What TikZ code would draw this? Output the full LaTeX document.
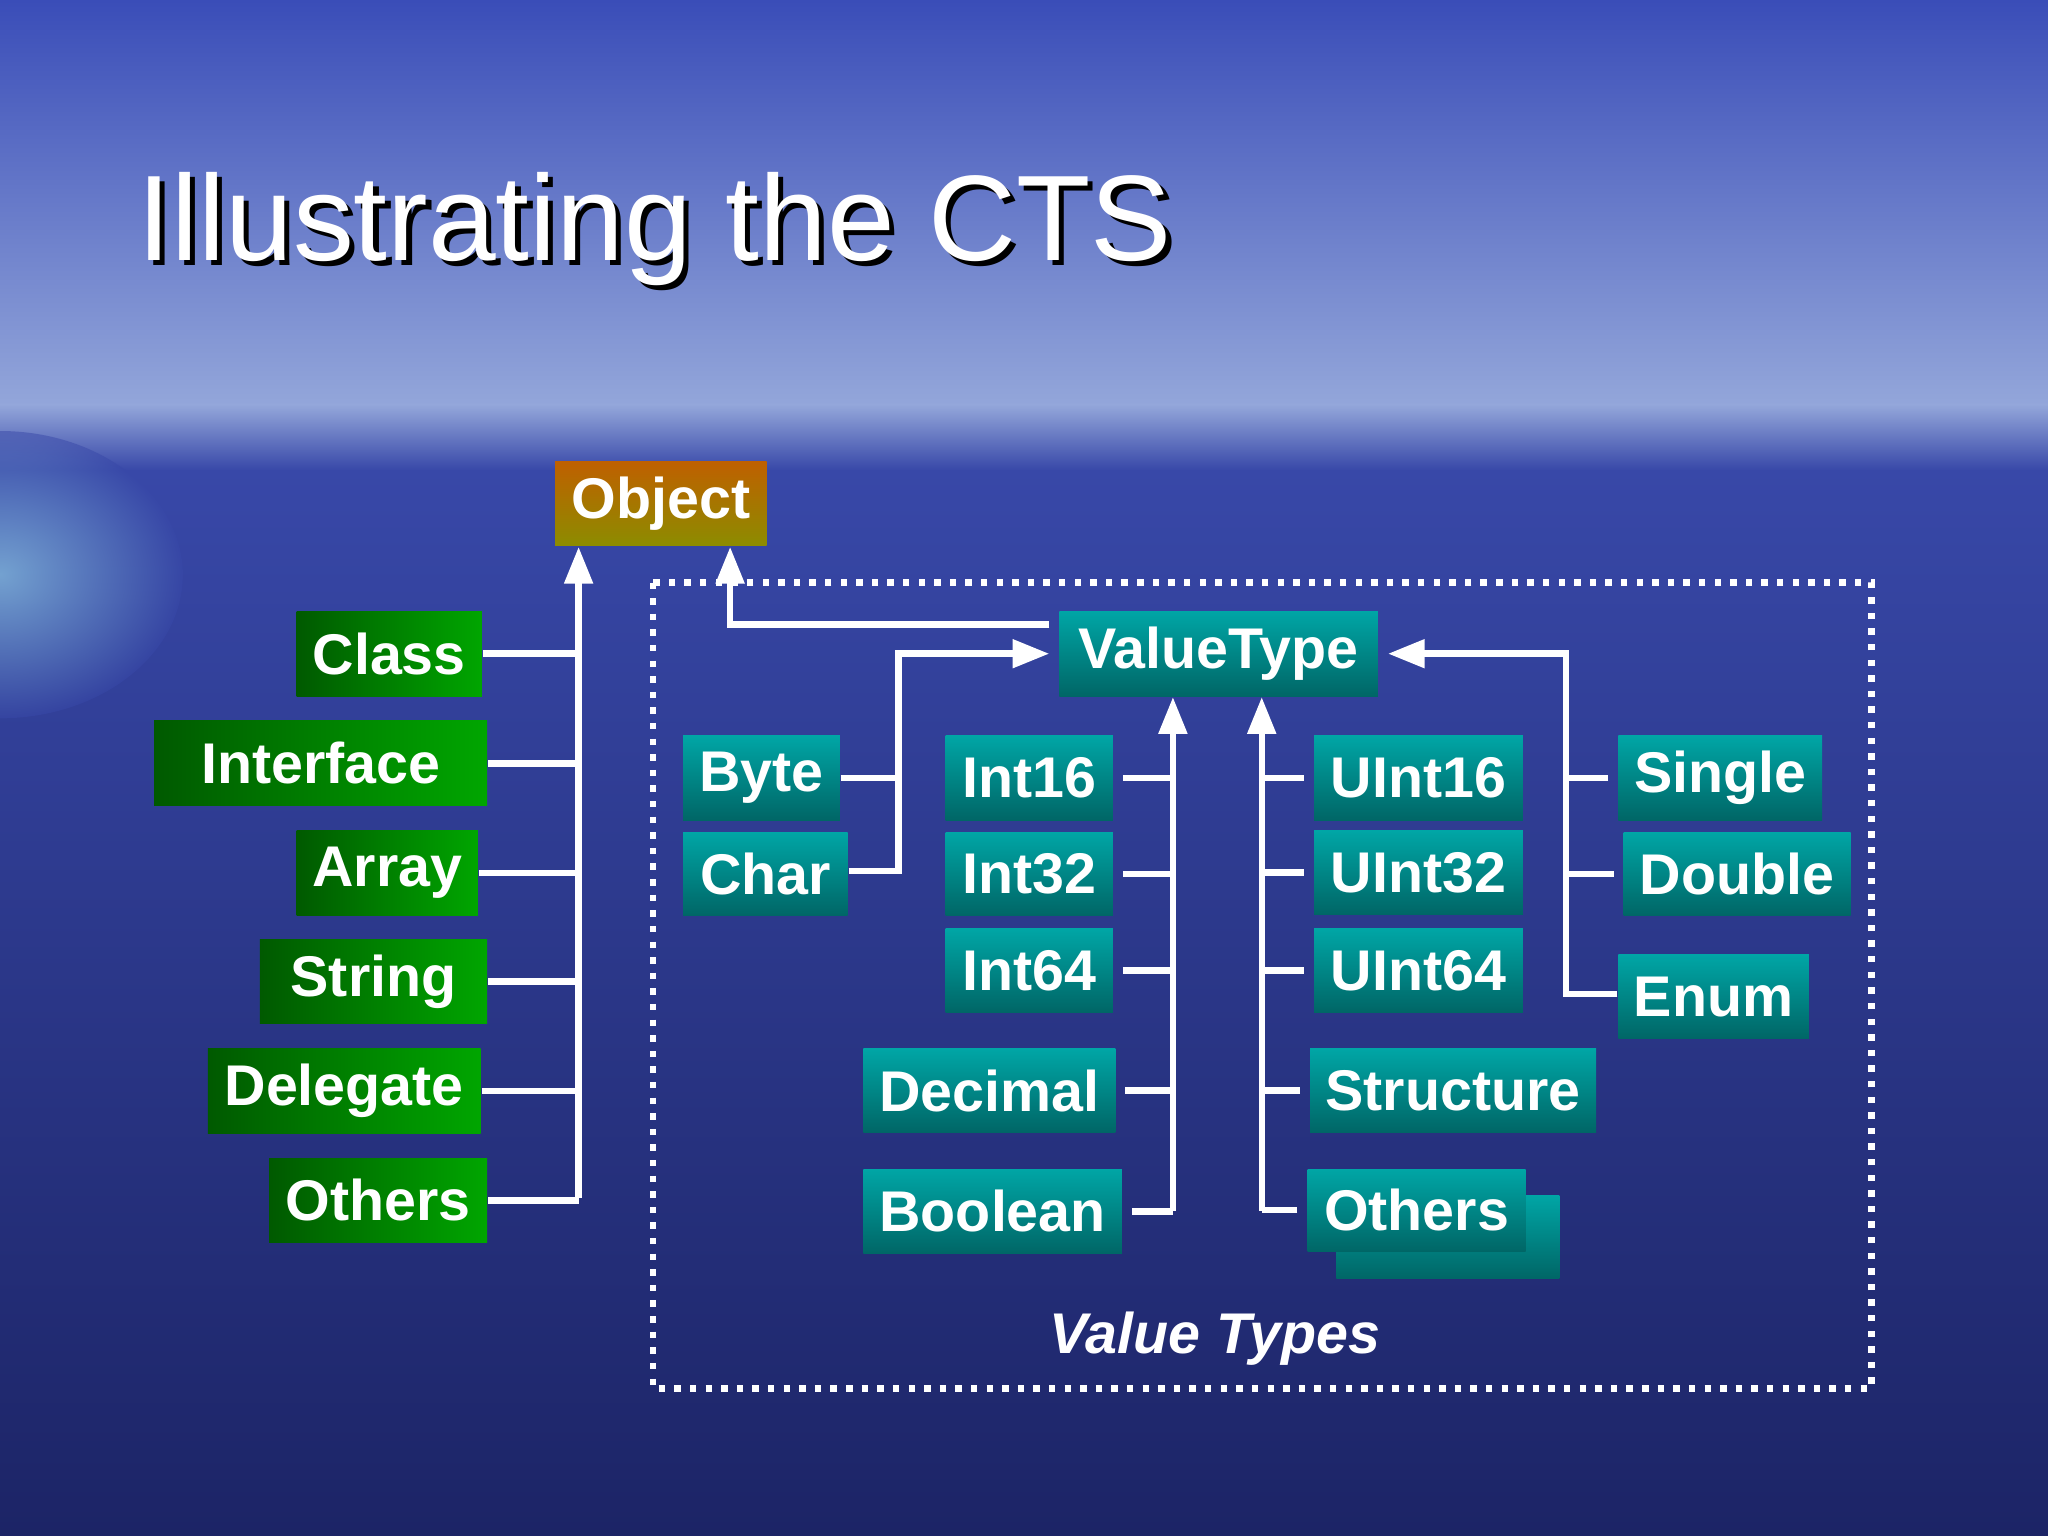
\documentclass[tikz,border=0pt]{standalone}
\usepackage{fontspec}
\setmainfont{Liberation Sans}
\usetikzlibrary{arrows.meta}
\definecolor{skytop}{HTML}{3A4DB8}
\definecolor{skylow}{HTML}{93A6DA}
\definecolor{seatop}{HTML}{3848A8}
\definecolor{seabot}{HTML}{1C2466}
\newcommand{\bx}[7]{%
	\node[#2,minimum width={(#5-#3)*0.01cm},minimum height={(#6-#4)*0.01cm}] (#1) at ({(#3+#5)/200},{-(#4+#6)/200}) {#7};}
\begin{document}
\begin{tikzpicture}[
	refbox/.style={
		rectangle,
		inner sep=0pt,
		text=white,
		font=\fontsize{12.5}{14}\selectfont\bfseries,
		left color=green!35!black,
		right color=green!65!black
	},
	valbox/.style={
		rectangle,
		inner sep=0pt,
		text=white,
		font=\fontsize{12.5}{14}\selectfont\bfseries,
		top color=teal!70!cyan,
		bottom color=teal!80!black
	},
	objbox/.style={
		rectangle,
		inner sep=0pt,
		text=white,
		font=\fontsize{12.5}{14}\selectfont\bfseries,
		top color=orange!75!black,
		bottom color=yellow!55!black
	},
	link/.style={draw=white, line width=1.4pt},
	arr/.style={link, -{Triangle[width=6pt,length=8pt]}}
]
% Background
\useasboundingbox (0,0) rectangle (15.68,-11.76);
\fill[top color=skytop, bottom color=skylow] (0,0) rectangle (15.68,-3.1);
\fill[top color=skylow, bottom color=seatop] (0,-3.1) rectangle (15.68,-3.6);
\fill[top color=seatop, bottom color=seabot] (0,-3.6) rectangle (15.68,-11.76);
\begin{scope}
	\clip (0,-3.2) rectangle (15.68,-11.76);
	\shade[inner color=cyan!30!white, outer color=seatop, opacity=0.5] (0,-4.4) ellipse (1.4 and 1.1);
\end{scope}

% Title
\node[text=black, font=\fontsize{26.5}{31}\selectfont, anchor=west] at (0.97,-1.79) {Illustrating the CTS};
\node[text=white, font=\fontsize{26.5}{31}\selectfont, anchor=west] (title) at (0.93,-1.75) {Illustrating the CTS};

% Reference types
\bx{obj}{objbox}{425}{353}{587}{418}{Object}
\bx{class}{refbox}{227}{468}{369}{533}{Class}
\bx{iface}{refbox}{118}{552}{373}{617}{Interface}
\bx{array}{refbox}{227}{636}{366}{701}{Array}
\bx{string}{refbox}{199}{719}{373}{784}{String}
\bx{deleg}{refbox}{159}{803}{368}{868}{Delegate}
\bx{rothers}{refbox}{206}{887}{373}{951}{Others}

% Value types
\draw[white, line width=1.4pt, dotted] (5.00,-4.46) rectangle (14.33,-10.63);
\node[text=white, font=\fontsize{12.5}{14}\selectfont\bfseries\itshape] (vtlabel) at (9.30,-10.25) {Value Types};
\bx{vtype}{valbox}{811}{468}{1055}{533}{ValueType}
\bx{byte}{valbox}{523}{563}{643}{628}{Byte}
\bx{char}{valbox}{523}{637}{649}{701}{Char}
\bx{int16}{valbox}{724}{563}{852}{628}{Int16}
\bx{int32}{valbox}{724}{637}{852}{701}{Int32}
\bx{int64}{valbox}{724}{711}{852}{775}{Int64}
\bx{decimal}{valbox}{661}{803}{854}{867}{Decimal}
\bx{bool}{valbox}{661}{895}{859}{960}{Boolean}
\bx{uint16}{valbox}{1006}{563}{1166}{628}{UInt16}
\bx{uint32}{valbox}{1006}{636}{1166}{700}{UInt32}
\bx{uint64}{valbox}{1006}{711}{1166}{775}{UInt64}
\bx{struct}{valbox}{1003}{803}{1222}{867}{Structure}
\bx{vshadow}{valbox}{1023}{915}{1194}{979}{}
\bx{vothers}{valbox}{1001}{895}{1168}{958}{Others}
\bx{single}{valbox}{1239}{563}{1395}{628}{Single}
\bx{double}{valbox}{1243}{637}{1417}{701}{Double}
\bx{enum}{valbox}{1239}{731}{1385}{795}{Enum}

% Trunk points
\coordinate (refT) at (4.43,-9.17);
\coordinate (objT) at (5.59,-4.78);
\coordinate (charT) at (6.88,-6.67);
\coordinate (leftT) at (8.98,-9.27);
\coordinate (rightT) at (9.66,-9.27);
\coordinate (floatT) at (11.99,-7.61);

% Reference connectors
\foreach \n in {class, iface, array, string, deleg, rothers}
	\draw[link] (\n.east) -- (\n.east -| refT);
\draw[arr] (refT) -- (refT |- obj.south);

% ValueType to Object
\draw[arr] ([xshift=-2pt]vtype.north west |- objT) -- (objT) -- (objT |- obj.south);

% Byte, Char
\draw[link] (byte.east) -- (byte.east -| charT);
\draw[arr] (char.east |- charT) -- (charT) -- (charT |- vtype.west) -- ([xshift=-2pt]vtype.west);

% Signed and others left
\foreach \n in {int16, int32, int64, decimal, bool}
	\draw[link] ([xshift=2pt]\n.east) -- (\n.east -| leftT);
\draw[arr] (leftT) -- (leftT |- vtype.south);

% Unsigned and others right
\foreach \n in {uint16, uint32, uint64, struct, vothers}
	\draw[link] ([xshift=-2pt]\n.west) -- (\n.west -| rightT);
\draw[arr] (rightT) -- (rightT |- vtype.south);

% Single, Double, Enum
\foreach \n in {single, double}
	\draw[link] ([xshift=-2pt]\n.west) -- (\n.west -| floatT);
\draw[arr] (enum.west |- floatT) -- (floatT) -- (floatT |- vtype.east) -- ([xshift=2pt]vtype.east);
\end{tikzpicture}
\end{document}
